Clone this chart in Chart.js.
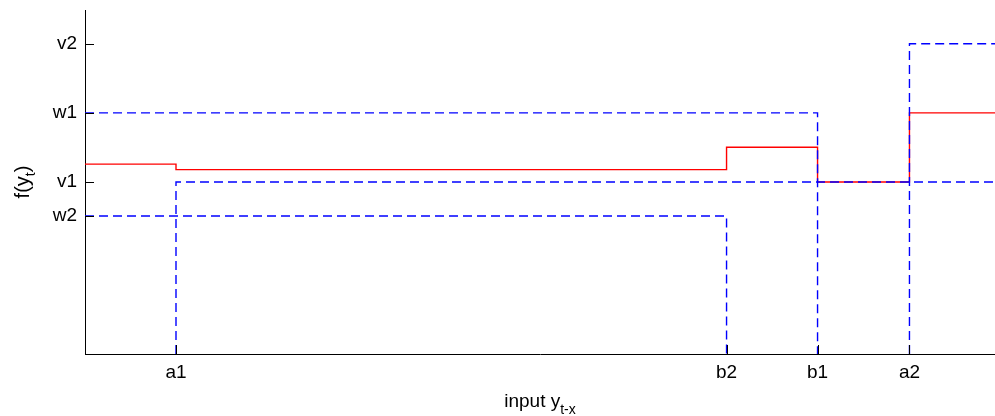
<!DOCTYPE html>
<html>
<head>
<meta charset="utf-8">
<script src="https://cdn.jsdelivr.net/npm/chart.js@4.4.0/dist/chart.umd.min.js"></script>
<style>
  html, body { margin: 0; padding: 0; background: #fff; }
  #wrap { width: 995px; height: 416px; position: relative; }
</style>
</head>
<body>
<div id="wrap"><canvas id="myChart"></canvas></div>
<script>
// tick positions / labels (axis units: x 0..100, y 0..100)
var xTickValues = [10.0, 70.5, 80.5, 90.6];
var xTickLabels = ['a1', 'b2', 'b1', 'a2'];
var yTickValues = [40.1, 50.0, 70.1, 90.2];
var yTickLabels = ['w2', 'v1', 'w1', 'v2'];

// red step line f(y_t)
var redX = [0, 10.0, 10.0, 70.5, 70.5, 80.5, 80.5, 90.6, 90.6, 100];
var redY = [55.2, 55.2, 53.6, 53.6, 60.1, 60.1, 50.0, 50.0, 70.1, 70.1];

// blue dashed threshold lines
var w1X = [0, 80.5, 80.5];
var w1Y = [70.1, 70.1, 0];
var w2X = [0, 70.5, 70.5];
var w2Y = [40.1, 40.1, 0];
var v1X = [10.0, 10.0, 100];
var v1Y = [0, 50.0, 50.0];
var v2X = [90.6, 90.6, 100];
var v2Y = [0, 90.2, 90.2];

var FONT = '"Liberation Sans", Arial, Helvetica, sans-serif';

function pts(xs, ys) {
  var out = [];
  for (var i = 0; i < xs.length; i++) out.push({x: xs[i], y: ys[i]});
  return out;
}

function blue(xs, ys) {
  return {
    data: pts(xs, ys),
    showLine: true,
    borderColor: '#0000ff',
    borderWidth: 1.4,
    borderDash: [9, 5],
    pointRadius: 0,
    fill: false
  };
}

var ds = [
  blue(w1X, w1Y),
  blue(w2X, w2Y),
  blue(v1X, v1Y),
  blue(v2X, v2Y),
  {
    data: pts(redX, redY),
    showLine: true,
    borderColor: '#ff0000',
    borderWidth: 1.4,
    pointRadius: 0,
    fill: false
  }
];

// inward tick marks + axis titles with subscripts
var extras = {
  id: 'extras',
  afterDraw: function(chart) {
    var c = chart.ctx;
    var xs = chart.scales.x, ys = chart.scales.y;
    var a = chart.chartArea;
    c.save();
    c.strokeStyle = '#000';
    c.lineWidth = 1;
    c.beginPath();
    yTickValues.forEach(function(v) {
      var p = Math.round(ys.getPixelForValue(v)) + 0.5;
      c.moveTo(a.left, p); c.lineTo(a.left + 9, p);
    });
    xTickValues.forEach(function(v) {
      var p = Math.round(xs.getPixelForValue(v)) + 0.5;
      c.moveTo(p, a.bottom); c.lineTo(p, a.bottom - 9);
    });
    c.stroke();

    c.fillStyle = '#000';
    c.textBaseline = 'alphabetic';
    c.textAlign = 'left';
    // x title
    c.font = '19px ' + FONT;
    var main = 'input y';
    var wMain = c.measureText(main).width;
    c.font = '14px ' + FONT;
    var sub = 't-x';
    var wSub = c.measureText(sub).width;
    var x0 = (a.left + a.right) / 2 - (wMain + wSub) / 2;
    c.font = '19px ' + FONT;
    c.fillText(main, x0, 407);
    c.font = '14px ' + FONT;
    c.fillText(sub, x0 + wMain, 414);

    // y title (rotated)
    c.translate(29, (a.top + a.bottom) / 2);
    c.rotate(-Math.PI / 2);
    c.font = '20px ' + FONT;
    var m1 = 'f(y', m2 = ')';
    var w1 = c.measureText(m1).width, w3 = c.measureText(m2).width;
    c.font = '14px ' + FONT;
    var w2 = c.measureText('t').width;
    var sx = -(w1 + w2 + w3) / 2;
    c.font = '20px ' + FONT;
    c.fillText(m1, sx, 0);
    c.font = '14px ' + FONT;
    c.fillText('t', sx + w1, 6);
    c.font = '20px ' + FONT;
    c.fillText(m2, sx + w1 + w2, 0);
    c.restore();
  }
};

var ctx = document.getElementById('myChart');
var chart = new Chart(ctx, {
  type: 'scatter',
  data: { datasets: ds },
  options: {
    responsive: true,
    maintainAspectRatio: false,
    animation: false,
    layout: { padding: { top: 10, right: 0, left: 0, bottom: 0 } },
    plugins: {
      legend: { display: false },
      tooltip: { enabled: false }
    },
    scales: {
      x: {
        type: 'linear',
        min: 0, max: 100,
        afterFit: function(s) { s.height = 62; s.paddingLeft = 0; s.paddingRight = 0; },
        afterBuildTicks: function(s) {
          s.ticks = xTickValues.map(function(v) { return {value: v}; });
        },
        ticks: {
          autoSkip: false,
          maxRotation: 0,
          padding: 7,
          color: '#000',
          font: { family: FONT, size: 19 },
          callback: function(v) {
            var i = xTickValues.indexOf(v);
            return i >= 0 ? xTickLabels[i] : '';
          }
        },
        grid: { display: true, drawOnChartArea: false, drawTicks: false },
        border: { display: true, color: '#000', width: 1 }
      },
      y: {
        type: 'linear',
        min: 0, max: 100,
        afterFit: function(s) { s.width = 85; s.paddingTop = 0; s.paddingBottom = 0; },
        afterBuildTicks: function(s) {
          s.ticks = yTickValues.map(function(v) { return {value: v}; });
        },
        ticks: {
          autoSkip: false,
          padding: 8,
          color: '#000',
          font: { family: FONT, size: 19 },
          callback: function(v) {
            var i = yTickValues.indexOf(v);
            return i >= 0 ? yTickLabels[i] : '';
          }
        },
        grid: { display: true, drawOnChartArea: false, drawTicks: false },
        border: { display: true, color: '#000', width: 1 }
      }
    }
  },
  plugins: [extras]
});
</script>
</body>
</html>
